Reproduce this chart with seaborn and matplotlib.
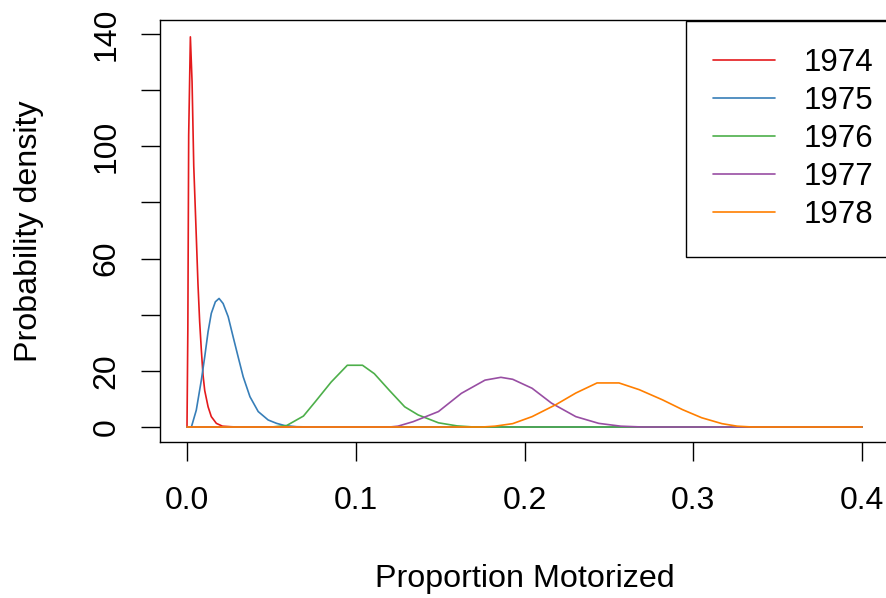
import pandas as pd
import seaborn as sns
import matplotlib.pyplot as plt
from matplotlib.lines import Line2D

# values
years = ["1974", "1975", "1976", "1977", "1978"]
colors = ["#E41A1C", "#377EB8", "#4DAF4A", "#984EA3", "#FF7F00"]

x_1974 = [0.0, 0.0005, 0.001, 0.002, 0.003, 0.004, 0.0055, 0.0065, 0.0075, 0.0085,
          0.0095, 0.0105, 0.0125, 0.0144, 0.0174, 0.021, 0.026, 0.03, 0.4]
y_1974 = [0, 35, 104, 139, 123, 93, 68, 51, 37.5, 27.4,
          18.5, 13, 7.2, 3.7, 1.3, 0.3, 0.1, 0, 0]

x_1975 = [0.0, 0.0026, 0.0055, 0.0085, 0.0105, 0.0125, 0.0144, 0.0168, 0.019, 0.0214,
          0.0244, 0.0273, 0.0303, 0.0333, 0.0373, 0.0422, 0.0481, 0.0531, 0.058, 0.065,
          0.075, 0.4]
y_1975 = [0, 0, 6, 16.7, 25, 34, 40.5, 44.6, 45.8, 44,
          39.3, 32.2, 25, 17.9, 10.8, 5.5, 2.5, 1.3, 0.5, 0.1,
          0, 0]

x_1976 = [0.0, 0.05, 0.059, 0.069, 0.076, 0.0854, 0.095, 0.104, 0.111, 0.120,
          0.129, 0.137, 0.149, 0.160, 0.17, 0.4]
y_1976 = [0, 0, 0.5, 3.9, 9, 16, 22, 22, 19, 13,
          7.2, 4.3, 1.5, 0.4, 0, 0]

x_1977 = [0.0, 0.12, 0.125, 0.134, 0.149, 0.1626, 0.1766, 0.186, 0.193, 0.2045,
          0.216, 0.2304, 0.244, 0.257, 0.27, 0.4]
y_1977 = [0, 0, 0.3, 1.9, 5.5, 12, 16.7, 17.7, 17, 13.8,
          8.5, 3.7, 1.3, 0.3, 0, 0]

x_1978 = [0.0, 0.175, 0.1825, 0.193, 0.2045, 0.2187, 0.2304, 0.243, 0.256, 0.268,
          0.2817, 0.2936, 0.305, 0.317, 0.326, 0.335, 0.4]
y_1978 = [0, 0, 0.3, 1.2, 3.7, 8, 12.1, 15.7, 15.7, 13.3,
          9.7, 6.2, 3.3, 1.2, 0.3, 0, 0]

xs_all = [x_1974, x_1975, x_1976, x_1977, x_1978]
ys_all = [y_1974, y_1975, y_1976, y_1977, y_1978]

frames = []
for yr, xs, ys in zip(years, xs_all, ys_all):
    frames.append(pd.DataFrame({"proportion": xs, "density": ys, "year": yr}))
df = pd.concat(frames, ignore_index=True)

sns.set_style("ticks", {"axes.edgecolor": "black", "text.color": "black",
                        "xtick.color": "black", "ytick.color": "black",
                        "axes.labelcolor": "black"})
plt.rcParams["font.family"] = ["Liberation Sans", "DejaVu Sans"]

fig = plt.figure(figsize=(8.87, 5.98), dpi=100)
ax = fig.add_axes([160 / 887, 156 / 598, 729 / 887, 422 / 598])

sns.lineplot(data=df, x="proportion", y="density", hue="year",
             palette=dict(zip(years, colors)), estimator=None, sort=False,
             lw=1.2, ax=ax, legend=False)

ax.set_xlim(-0.016, 0.416)
ax.set_ylim(-5.34, 145.0)
ax.set_xticks([0.0, 0.1, 0.2, 0.3, 0.4])
ax.set_xticklabels(["0.0", "0.1", "0.2", "0.3", "0.4"])
ax.set_yticks([0, 20, 40, 60, 80, 100, 120, 140])
ax.set_yticklabels(["0", "20", "", "60", "", "100", "", "140"], rotation=90, va="center")
ax.tick_params(length=13.7, width=1.0, labelsize=23, direction="out")
ax.tick_params(axis="x", pad=18.0)
ax.tick_params(axis="y", pad=14.0)
for sp in ax.spines.values():
    sp.set_linewidth(1.0)
    sp.set_color("black")

ax.set_xlabel("Proportion Motorized", fontsize=23.2)
ax.set_ylabel("Probability density", fontsize=23.2)
ax.xaxis.set_label_coords(0.5, -0.2895)
ax.yaxis.set_label_coords(-0.1595, 0.5)

handles = [Line2D([], [], color=c, lw=1.2) for c in colors]
leg = ax.legend(handles, years, loc="upper left",
                bbox_to_anchor=(686 / 887, 1 - 21 / 598), bbox_transform=fig.transFigure,
                fontsize=22.5, frameon=True, fancybox=False, framealpha=1,
                edgecolor="black", borderpad=0.85, labelspacing=0.26,
                handlelength=2.0, handletextpad=0.9, borderaxespad=0)
leg.get_frame().set_linewidth(1.0)

fig.savefig("out.png", dpi=100)
